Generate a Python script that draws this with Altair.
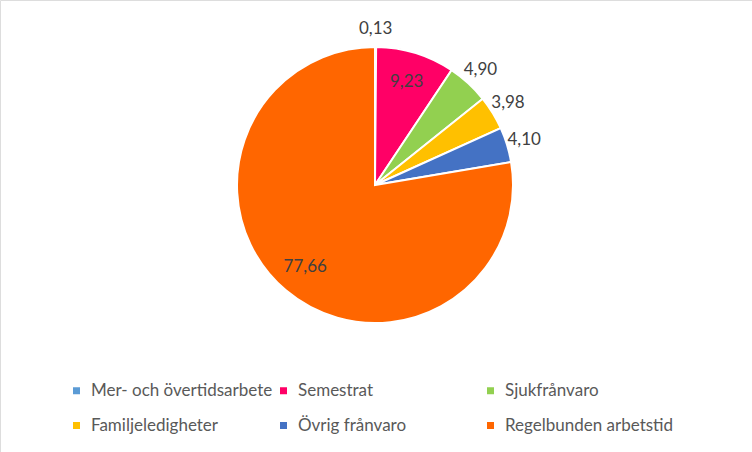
import altair as alt
import pandas as pd

categories = ["Mer- och övertidsarbete", "Semestrat", "Sjukfrånvaro",
              "Familjeledigheter", "Övrig frånvaro", "Regelbunden arbetstid"]
values = [0.13, 9.23, 4.90, 3.98, 4.10, 77.66]
colors = ["#5B9BD5", "#FF0066", "#92D050", "#FFC000", "#4472C4", "#FF6600"]

df = pd.DataFrame({"kategori": categories, "varde": values, "ordning": list(range(len(categories)))})

FONT = "Lato"
CX, CY, R = 375, 185, 138

base = alt.Chart(df).encode(
    theta=alt.Theta("varde:Q", stack=True),
    order=alt.Order("ordning:Q", sort="ascending"),
    x=alt.value(CX),
    y=alt.value(CY),
)

arc = base.mark_arc(outerRadius=R, stroke="white", strokeWidth=2).encode(
    color=alt.Color(
        "kategori:N",
        sort=categories,
        scale=alt.Scale(domain=categories, range=colors),
        legend=alt.Legend(
            title=None, orient="none", legendX=68, legendY=382,
            direction="horizontal", columns=3, gridAlign="all",
            symbolType="square", symbolSize=49, symbolStrokeWidth=0,
            labelFont=FONT, labelFontSize=17, labelColor="#595959",
            labelLimit=0, columnPadding=2, rowPadding=17, labelOffset=6,
            padding=0,
        ),
    )
)

lab = "replace(format(datum.varde, '.2f'), '.', ',')"

text_in = base.transform_calculate(
    lab_in=f"datum.varde > 5 ? {lab} : ''"
).mark_text(radius=108, font=FONT, fontSize=17, color="#404040").encode(text="lab_in:N")

text_out = base.transform_calculate(
    lab_out=f"datum.varde > 5 ? '' : {lab}"
).mark_text(radius=156, font=FONT, fontSize=17, color="#404040").encode(text="lab_out:N")

chart = alt.layer(arc, text_in, text_out).properties(
    width=752, height=452, padding=0,
    autosize=alt.AutoSizeParams(type="none"),
).configure_view(stroke="#d0d0d0", strokeWidth=2).configure(background="white")

chart.save("out.html", embed_options={"renderer": "svg", "actions": False})
